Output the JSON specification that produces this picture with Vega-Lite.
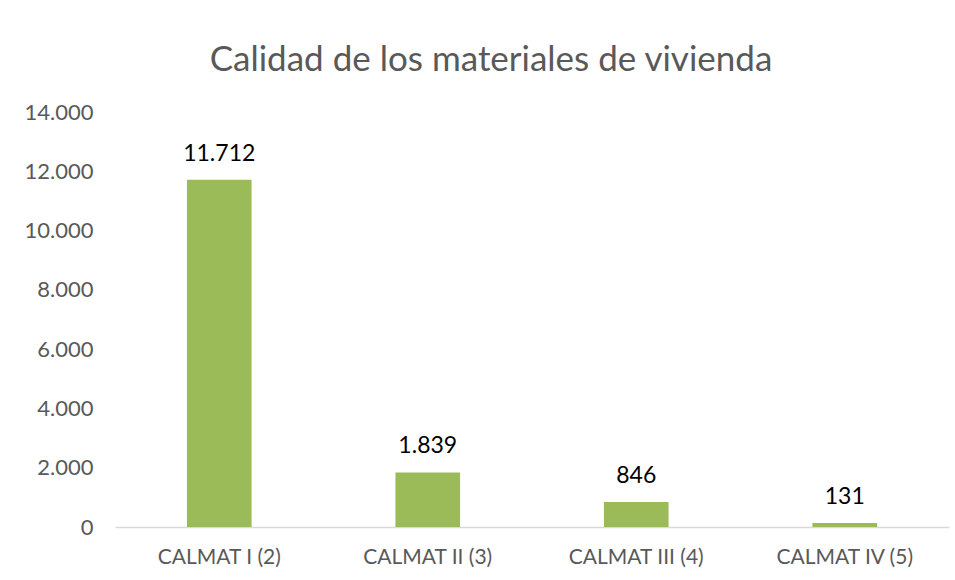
{
  "$schema": "https://vega.github.io/schema/vega-lite/v6.json",
  "width": 834,
  "height": 415,
  "autosize": {"type": "none"},
  "padding": {"left": 115, "top": 112, "right": 6, "bottom": 53},
  "background": "white",
  "title": {
    "text": "Calidad de los materiales de vivienda",
    "font": "Lato",
    "fontSize": 35,
    "fontWeight": "normal",
    "color": "#595959",
    "anchor": "middle",
    "dx": -41,
    "offset": 23
  },
  "data": {
    "values": [
      {"categoria": "CALMAT I (2)", "viviendas": 11712},
      {"categoria": "CALMAT II (3)", "viviendas": 1839},
      {"categoria": "CALMAT III (4)", "viviendas": 846},
      {"categoria": "CALMAT IV (5)", "viviendas": 131}
    ]
  },
  "encoding": {
    "x": {
      "field": "categoria",
      "type": "nominal",
      "sort": null,
      "title": null,
      "scale": {"paddingInner": 0.69, "paddingOuter": 0.345},
      "axis": {
        "labelAngle": 0,
        "labelFont": "Lato",
        "labelFontSize": 21,
        "labelColor": "#595959",
        "labelPadding": 19,
        "ticks": false,
        "domainColor": "#D9D9D9",
        "domainWidth": 1.5,
        "grid": false
      }
    },
    "y": {
      "field": "viviendas",
      "type": "quantitative",
      "title": null,
      "scale": {"domain": [0, 14000]},
      "axis": {
        "values": [0, 2000, 4000, 6000, 8000, 10000, 12000, 14000],
        "format": ",d",
        "labelFont": "Lato",
        "labelFontSize": 22,
        "labelColor": "#595959",
        "labelPadding": 22,
        "ticks": false,
        "domain": false,
        "grid": false
      }
    }
  },
  "layer": [
    {"mark": {"type": "bar", "color": "#9BBB59"}},
    {
      "mark": {
        "type": "text",
        "baseline": "bottom",
        "dy": -14,
        "font": "Lato",
        "fontSize": 23,
        "color": "#000000"
      },
      "encoding": {"text": {"field": "viviendas", "type": "quantitative", "format": ",d"}}
    }
  ],
  "config": {
    "view": {"stroke": null},
    "locale": {
      "number": {"decimal": ",", "thousands": ".", "grouping": [3], "currency": ["", ""]}
    }
  }
}
